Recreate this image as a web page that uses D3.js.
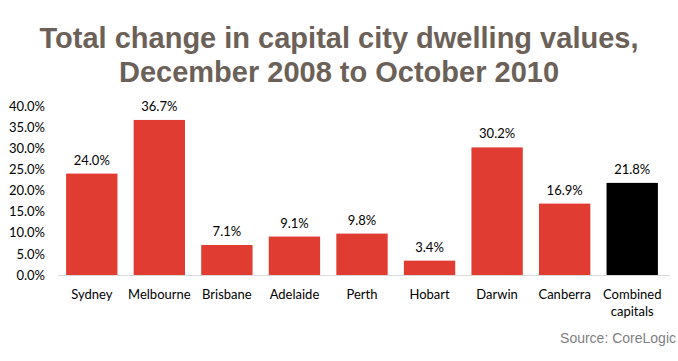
<!doctype html>
<html>
<head>
<style>
  body { margin: 0; background: #fff; }
  .tick text { font-family: Lato, "Open Sans", sans-serif; }
</style>
<script src="https://d3js.org/d3.v7.min.js"></script>
</head>
<body>
<svg width="678" height="361"></svg>
<script>
  var cities = ["Sydney", "Melbourne", "Brisbane", "Adelaide", "Perth", "Hobart", "Darwin", "Canberra", "Combined capitals"];
  var changes = [24.0, 36.7, 7.1, 9.1, 9.8, 3.4, 30.2, 16.9, 21.8];
  var yTicks = [0, 5, 10, 15, 20, 25, 30, 35, 40];

  var svg = d3.select("svg");
  var plotLeft = 58, plotRight = 666, plotTop = 106, plotBottom = 275;

  svg.append("text")
    .attr("x", 339).attr("y", 48)
    .attr("text-anchor", "middle")
    .attr("fill", "#6b6158")
    .style("font", "bold 29px 'Liberation Sans', Arial, sans-serif")
    .text("Total change in capital city dwelling values,");
  svg.append("text")
    .attr("x", 339).attr("y", 82)
    .attr("text-anchor", "middle")
    .attr("fill", "#6b6158")
    .style("font", "bold 29px 'Liberation Sans', Arial, sans-serif")
    .text("December 2008 to October 2010");

  var x = d3.scaleBand().domain(cities).range([plotLeft, plotRight]).paddingInner(0.24).paddingOuter(0.12);
  var y = d3.scaleLinear().domain([0, 40]).range([plotBottom, plotTop]);

  var yAxis = svg.append("g")
    .attr("transform", "translate(" + (plotLeft - 13) + ",0)")
    .call(d3.axisLeft(y).tickValues(yTicks).tickSize(0).tickPadding(0)
      .tickFormat(function (d) { return d.toFixed(1) + "%"; }));
  yAxis.select(".domain").remove();
  yAxis.selectAll("text").attr("font-size", 13).attr("fill", "#000");

  svg.selectAll(".bar")
    .data(changes)
    .enter().append("rect")
    .attr("class", "bar")
    .attr("x", function (d, i) { return x(cities[i]); })
    .attr("y", function (d) { return y(d); })
    .attr("width", x.bandwidth())
    .attr("height", function (d) { return y(0) - y(d); })
    .attr("fill", function (d, i) { return i === cities.length - 1 ? "#000" : "#e03c31"; });

  svg.append("line")
    .attr("x1", plotLeft).attr("x2", plotRight + 4)
    .attr("y1", y(0) + 0.5).attr("y2", y(0) + 0.5)
    .attr("stroke", "#d9d9d9");

  svg.selectAll(".val")
    .data(changes)
    .enter().append("text")
    .attr("class", "val")
    .attr("x", function (d, i) { return x(cities[i]) + x.bandwidth() / 2; })
    .attr("y", function (d) { return y(d) - 9; })
    .attr("text-anchor", "middle")
    .style("font", "13px Lato, 'Open Sans', sans-serif")
    .text(function (d) { return d.toFixed(1) + "%"; });

  var xAxis = svg.append("g")
    .attr("transform", "translate(0," + plotBottom + ")")
    .call(d3.axisBottom(x).tickSize(0).tickPadding(15));
  xAxis.select(".domain").remove();
  xAxis.selectAll("text").attr("font-size", 13).attr("fill", "#000")
    .each(function (d) {
      var t = d3.select(this), words = d.split(" ");
      if (words.length > 1) {
        t.text(null);
        words.forEach(function (w, k) {
          t.append("tspan").attr("x", 0).attr("dy", k === 0 ? "0.71em" : "1.3em").text(w);
        });
      }
    });

  svg.append("text")
    .attr("x", 676).attr("y", 343)
    .attr("text-anchor", "end")
    .attr("fill", "#7f7f7f")
    .style("font", "14px 'Liberation Sans', Arial, sans-serif")
    .text("Source: CoreLogic");
</script>
</body>
</html>
